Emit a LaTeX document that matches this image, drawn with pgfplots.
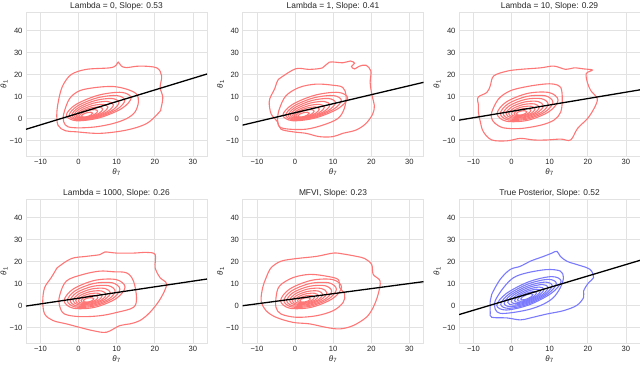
\documentclass[border=0pt]{standalone}
\usepackage{fontspec}
\setmainfont{Liberation Sans}
\usepackage{pgfplots}
\pgfplotsset{compat=1.18}
\usepackage{pgfplotstable}
\usepgfplotslibrary{groupplots}
\usetikzlibrary{calc}

\definecolor{gridgray}{RGB}{226,226,226}
\definecolor{txt}{RGB}{38,38,38}
\definecolor{kdered}{RGB}{255,118,118}
\definecolor{kdeblue}{RGB}{122,122,255}

% inner density contours, 8 points per level (levels 3..10)
\pgfplotstableread{
x3 y3 x4 y4 x5 y5 x6 y6 x7 y7 x8 y8 x9 y9 x10 y10
13.8 9.4 12.15 8.31 10.6 7.28 9.15 6.25 7.7 5.22 6.35 4.3 5.0 3.38 3.7 2.46
11.31 11.94 10.01 10.49 8.78 9.15 7.63 7.81 6.47 6.47 5.38 5.28 4.3 4.08 3.26 2.89
5.3 10.7 4.85 9.43 4.4 8.24 3.95 7.05 3.5 5.86 3.05 4.8 2.6 3.74 2.2 2.68
-0.71 6.42 -0.31 5.74 0.02 5.08 0.27 4.41 0.53 3.75 0.72 3.15 0.9 2.55 1.14 1.96
-3.2 1.6 -2.45 1.59 -1.8 1.52 -1.25 1.45 -0.7 1.38 -0.25 1.3 0.2 1.22 0.7 1.14
-0.71 -0.94 -0.31 -0.59 0.02 -0.35 0.27 -0.11 0.53 0.13 0.72 0.32 0.9 0.52 1.14 0.71
5.3 0.3 4.85 0.47 4.4 0.56 3.95 0.65 3.5 0.74 3.05 0.8 2.6 0.86 2.2 0.92
11.31 4.58 10.01 4.16 8.78 3.72 7.63 3.29 6.47 2.85 5.38 2.45 4.3 2.05 3.26 1.64
}\famA

\pgfplotstableread{
x3 y3 x4 y4 x5 y5 x6 y6 x7 y7 x8 y8 x9 y9 x10 y10
12.2 8.43 10.85 7.51 9.6 6.63 8.35 5.83 7.25 5.07 6.15 4.38 5.05 3.72 4.0 3.05
9.86 11.85 8.83 10.4 7.87 9.05 6.91 7.8 6.08 6.64 5.24 5.58 4.41 4.56 3.59 3.55
4.2 11.47 3.95 10.08 3.7 8.78 3.45 7.58 3.25 6.46 3.05 5.44 2.85 4.47 2.6 3.49
-1.46 7.49 -0.93 6.72 -0.47 5.97 -0.01 5.29 0.42 4.64 0.86 4.05 1.29 3.48 1.61 2.91
-3.8 2.27 -2.95 2.29 -2.2 2.27 -1.45 2.27 -0.75 2.23 -0.05 2.22 0.65 2.18 1.2 2.15
-1.46 -1.15 -0.93 -0.6 -0.47 -0.15 -0.01 0.3 0.42 0.66 0.86 1.02 1.29 1.34 1.61 1.65
4.2 -0.77 3.95 -0.28 3.7 0.12 3.45 0.52 3.25 0.84 3.05 1.16 2.85 1.43 2.6 1.71
9.86 3.21 8.83 3.08 7.87 2.93 6.91 2.81 6.08 2.66 5.24 2.55 4.41 2.42 3.59 2.29
}\famB

\pgfplotstableread{
x3 y3 x4 y4 x5 y5 x6 y6 x7 y7 x8 y8 x9 y9 x10 y10
13.0 11.07 11.75 10.1 10.65 9.13 9.6 8.28 8.5 7.39 7.55 6.61 6.55 5.78 5.6 5.01
10.52 13.2 9.61 11.95 8.8 10.7 8.05 9.6 7.24 8.45 6.55 7.45 5.82 6.4 5.13 5.4
4.55 10.87 4.45 9.93 4.35 8.99 4.3 8.16 4.2 7.29 4.15 6.53 4.05 5.73 4.0 4.97
-1.42 5.46 -0.71 5.23 -0.1 5.0 0.55 4.82 1.16 4.58 1.75 4.4 2.28 4.16 2.87 3.97
-3.9 0.13 -2.85 0.6 -1.95 1.07 -1.0 1.52 -0.1 1.91 0.75 2.29 1.55 2.62 2.4 2.99
-1.42 -2.0 -0.71 -1.25 -0.1 -0.5 0.55 0.2 1.16 0.85 1.75 1.45 2.28 2.0 2.87 2.6
4.55 0.33 4.45 0.77 4.35 1.21 4.3 1.64 4.2 2.01 4.15 2.37 4.05 2.67 4.0 3.03
10.52 5.74 9.61 5.47 8.8 5.2 8.05 4.98 7.24 4.72 6.55 4.5 5.82 4.24 5.13 4.03
}\famC

\pgfplotsset{
  kde/.style={line width=1.1pt, smooth cycle, tension=0.55},
  fitline/.style={black, line width=1.3pt},
}

\begin{document}
\begin{tikzpicture}
\begin{groupplot}[
  group style={group size=3 by 2, horizontal sep=35.5pt, vertical sep=43pt},
  width=181pt, height=144pt, scale only axis,
  xmin=-13.8, xmax=33.7, ymin=-17, ymax=48.5,
  xtick={-10,0,10,20,30}, xticklabels={−10,0,10,20,30},
  ytick={-10,0,10,20,30,40}, yticklabels={−10,0,10,20,30,40},
  grid=major, grid style={gridgray, line width=0.8pt},
  axis line style={gridgray, line width=0.8pt},
  major tick length=0pt,
  tick label style={font=\fontsize{7.6}{8}\selectfont, text=txt},
  xlabel={\textit{θ}\textsubscript{7}}, ylabel={\textit{θ}\textsubscript{1}},
  label style={font=\fontsize{8}{9}\selectfont, text=txt},
  xlabel style={yshift=3pt},
  ylabel style={yshift=-5pt},
  every axis title shift=0pt,
  title style={font=\fontsize{8.4}{9}\selectfont, text=txt, at={(0.5,1)}, anchor=south, yshift=0pt, inner sep=1.5pt},
]

% Lambda = 0
\nextgroupplot[title={Lambda = 0, Slope: 0.53}]
\addplot[kde, kdered] coordinates {(-5.4,-3) (-5.7,3) (-5,10.4) (-4,15.5) (-1.9,20.1) (2,22.4) (8.2,23.1) (9.8,24.2) (10.4,25.7) (11.2,24) (12.5,23.2) (16.1,23.9) (20.5,23.1) (21.8,19.4) (21.4,14.2) (22.1,9.7) (21.6,4.5) (21.2,3) (17.9,-2.2) (12.6,-5.2) (5.6,-6.7) (-0.6,-6) (-3.5,-5.5)};
\addplot[kde, kdered] coordinates {(-3.9,-1.5) (-3.9,2.2) (-2.4,9) (0.3,12.7) (4.7,14.2) (9.1,14.6) (12.6,13.4) (15.2,11.2) (15.7,7.5) (14.8,3) (12.6,0) (9.1,-2.2) (4.7,-3.7) (0.3,-4.2) (-2.8,-3.7)};
\pgfplotsinvokeforeach{3,...,10}{\addplot[kde, kdered] table[x=x#1, y=y#1] {\famA};}
\addplot[fitline] coordinates {(-13.8,-4.85) (33.7,20.3)};

% Lambda = 1
\nextgroupplot[title={Lambda = 1, Slope: 0.41}]
\addplot[kde, kdered] coordinates {(-6.3,2.2) (-6.8,7.5) (-6.3,10.4) (-5.4,13.4) (-4.6,17.2) (-3.7,18.7) (0.2,22.7) (3.7,22.4) (7.2,23.1) (9,25.7) (12.5,25.4) (14.5,26.2) (15.6,25.2) (14.8,23.7) (15.6,22.6) (16.8,23.8) (18.6,24.3) (19.9,21.6) (19.7,16.4) (20.2,10.4) (20.8,6) (20.4,2.2) (18.6,-2.2) (16,-5.2) (12.5,-6.7) (9.9,-8.2) (6.4,-8.2) (2.9,-6.7) (-0.6,-6) (-3.7,-4.8) (-4.6,-1.5)};
\addplot[kde, kdered] coordinates {(-4.6,0) (-4.1,4.5) (-2.4,10.4) (1.1,14.2) (5.5,15.7) (9.9,15.2) (12.5,14.2) (13.4,10.4) (12.9,4.5) (11.2,0) (7.2,-3) (2.9,-4.8) (-1.5,-4.8) (-4.1,-3.7)};
\pgfplotsinvokeforeach{3,...,10}{\addplot[kde, kdered] table[x=x#1, y=y#1] {\famA};}
\addplot[fitline] coordinates {(-13.8,-2.96) (33.7,16.5)};

% Lambda = 10
\nextgroupplot[title={Lambda = 10, Slope: 0.29}]
\addplot[kde, kdered] coordinates {(-8.7,6) (-8.8,9.7) (-6.5,11.9) (-5.6,14.9) (-4.7,19.4) (-1.2,21.6) (2.3,22.4) (7.6,23.1) (11.1,23.9) (14.2,22.4) (16.4,23.1) (19,22.6) (21.2,22.1) (19.6,20.5) (19.9,16.4) (20.8,12.7) (22.5,9) (21.6,4.5) (19.9,0) (17.3,-4.5) (15.5,-9.7) (12.9,-9.3) (9.3,-9.7) (5.8,-9.7) (2.3,-9) (-1.2,-10.1) (-5.2,-9.7) (-7.4,-6) (-8.2,-1.5) (-8.7,3)};
\addplot[kde, kdered] coordinates {(-5.2,0) (-5.2,3) (-3.4,9) (-0.3,12.7) (4.1,14.6) (8.5,15.7) (11.1,15.7) (12.9,14.2) (13.3,9) (12.9,3) (11.1,-0.7) (7.6,-3) (2.3,-4.5) (-2.1,-4.2) (-4.3,-2.2)};
\pgfplotsinvokeforeach{3,...,10}{\addplot[kde, kdered] table[x=x#1, y=y#1] {\famB};}
\addplot[fitline] coordinates {(-13.8,-0.7) (33.7,13.1)};

% Lambda = 1000
\nextgroupplot[title={Lambda = 1000, Slope: 0.26}]
\addplot[kde, kdered] coordinates {(-9.4,2.2) (-8.9,8.2) (-7.2,12.7) (-5.9,16.4) (-5.4,17.5) (-1.9,21.4) (2,22.4) (5.6,23.2) (6.9,24.4) (10,23.9) (14.4,23.9) (17.9,24.2) (20.1,23.2) (20.1,17.2) (21.4,12.7) (23.1,9.7) (21.4,2.9) (18.7,-3.1) (16.1,-6.8) (13.5,-8.3) (10.8,-9.1) (7.3,-12.1) (3.8,-11.4) (0.3,-9.9) (-3.2,-8.3) (-6.7,-6.8) (-8.9,-3.8)};
\addplot[kde, kdered] coordinates {(-5,-0.1) (-5,4.4) (-3.2,11.2) (1.2,14.2) (5.6,15.7) (9.1,15.4) (12.6,14.9) (14.4,11.2) (15.2,3.7) (14.4,-0.8) (10,-3.1) (5.6,-4.6) (0.3,-5) (-3.7,-3.8)};
\pgfplotsinvokeforeach{3,...,10}{\addplot[kde, kdered] table[x=x#1, y=y#1] {\famB};}
\addplot[fitline] coordinates {(-13.8,-0.2) (33.7,12.1)};

% MFVI
\nextgroupplot[title={MFVI, Slope: 0.23}]
\addplot[kde, kdered] coordinates {(-8.9,2.2) (-8.5,8.2) (-7.6,12.7) (-6.3,17.2) (-3.7,20.2) (0.3,21.4) (5.6,22.4) (10,23.9) (12.6,23.5) (16.1,22.4) (18.3,21.4) (20.1,18.7) (20.5,14.2) (22.3,11.2) (21.8,5.2) (20.5,-0.8) (18.7,-5.3) (15.2,-9.1) (11.7,-10.6) (8.2,-9.9) (3.8,-8.3) (-0.6,-7.6) (-5,-5.3) (-7.6,-2.3)};
\addplot[kde, kdered] coordinates {(-5,-0.8) (-5,3.7) (-4.1,8.9) (-0.6,12.7) (3.8,14.2) (8.2,13.4) (11.3,11.9) (11.7,8.2) (13,5.2) (12.6,1.4) (10,-2.3) (5.6,-4.6) (0.3,-5.3) (-3.7,-3.8)};
\pgfplotsinvokeforeach{3,...,10}{\addplot[kde, kdered] table[x=x#1, y=y#1] {\famB};}
\addplot[fitline] coordinates {(-13.8,-0.05) (33.7,10.9)};

% True posterior
\nextgroupplot[title={True Posterior, Slope: 0.52}]
\addplot[kde, kdeblue] coordinates {(-5.6,-3.1) (-5.6,2.2) (-5.2,5.2) (-3,11.9) (-0.4,16.4) (2.3,17.9) (4.9,20.2) (8.4,22.4) (10.6,23.9) (11.9,24.7) (12.8,22.4) (14.5,20.2) (17.1,18.7) (19.8,17.2) (21,15.7) (21.5,12.7) (20.2,10.4) (18.9,6.7) (18.9,3.7) (17.1,0.1) (13.6,-2.3) (9.3,-3.8) (4.9,-5.6) (2.3,-6.5) (-1.2,-5.6) (-5.2,-5.3)};
\addplot[kde, kdeblue] coordinates {(-4.3,-1.6) (-4.3,2.2) (-2.1,8.2) (0.5,12.7) (4,14.9) (9.3,16.4) (12.8,15.7) (13.6,12.7) (12.8,8.2) (11,3.7) (8.4,0.7) (4.9,-1.6) (0.5,-3.1) (-3,-3.5)};
\pgfplotsinvokeforeach{3,...,10}{\addplot[kde, kdeblue] table[x=x#1, y=y#1] {\famC};}
\addplot[fitline] coordinates {(-13.8,-4.08) (33.7,20.6)};
\end{groupplot}
\pgfresetboundingbox
\path[use as bounding box] ($(group c1r1.north west)+(-26pt,12pt)$) rectangle ++(640pt,-366pt);
\end{tikzpicture}
\end{document}
